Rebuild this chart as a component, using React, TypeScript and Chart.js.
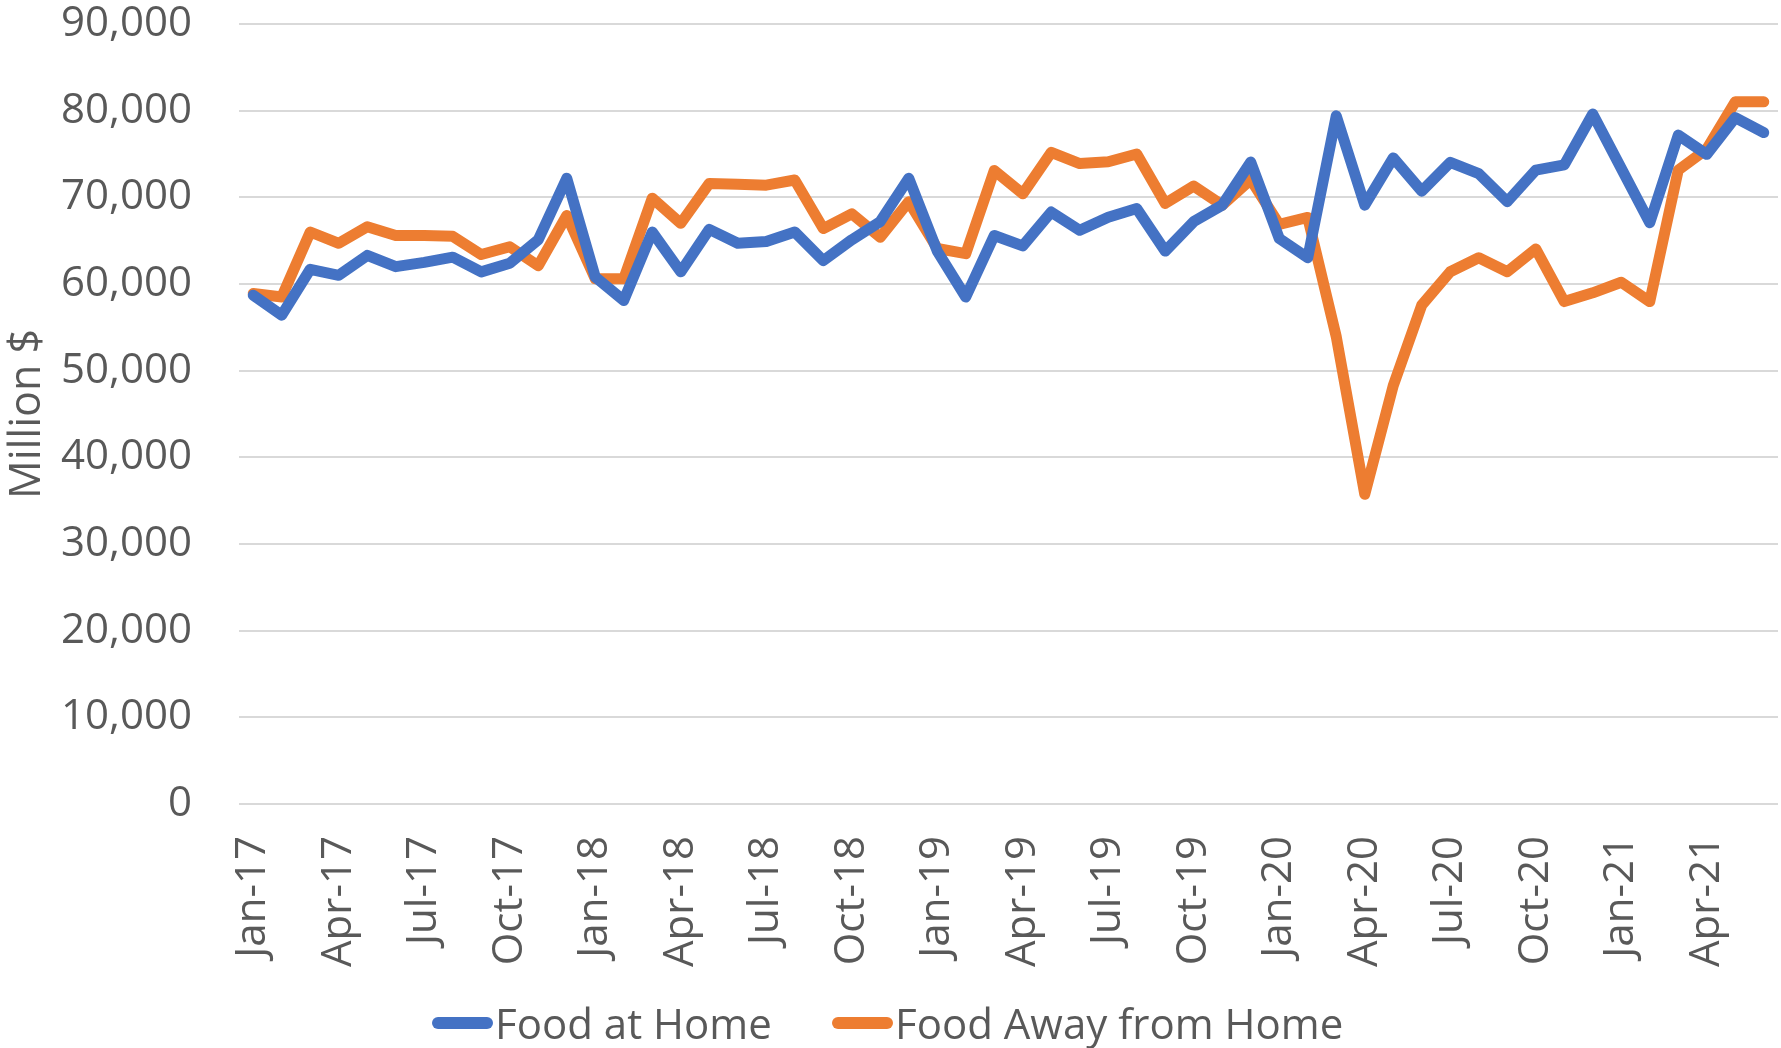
import React, { useEffect, useRef } from "react";
import { Chart, registerables } from "chart.js";

Chart.register(...registerables);

const months = [
  "Jan-17","Feb-17","Mar-17","Apr-17","May-17","Jun-17","Jul-17","Aug-17","Sep-17","Oct-17","Nov-17","Dec-17",
  "Jan-18","Feb-18","Mar-18","Apr-18","May-18","Jun-18","Jul-18","Aug-18","Sep-18","Oct-18","Nov-18","Dec-18",
  "Jan-19","Feb-19","Mar-19","Apr-19","May-19","Jun-19","Jul-19","Aug-19","Sep-19","Oct-19","Nov-19","Dec-19",
  "Jan-20","Feb-20","Mar-20","Apr-20","May-20","Jun-20","Jul-20","Aug-20","Sep-20","Oct-20","Nov-20","Dec-20",
  "Jan-21","Feb-21","Mar-21","Apr-21","May-21","Jun-21",
];

const foodAtHome = [
  58700, 56400, 61700, 61000, 63300, 62000, 62500, 63100, 61400, 62400, 65100, 72200,
  60800, 58100, 66000, 61400, 66300, 64700, 64900, 66000, 62700, 65100, 67200, 72200,
  63800, 58500, 65600, 64400, 68300, 66200, 67700, 68700, 63800, 67200, 69100, 74070,
  65250, 63030, 79400, 69100, 74550, 70710, 74030, 72730, 69500, 73140, 73750, 79610,
  73340, 67070, 77180, 74960, 79200, 77470,
];

const foodAwayFromHome = [
  58900, 58500, 66000, 64700, 66600, 65600, 65600, 65500, 63400, 64300, 62100, 67900,
  60600, 60600, 69900, 67000, 71600, 71500, 71400, 72000, 66400, 68100, 65400, 69500,
  64100, 63500, 73100, 70400, 75200, 73900, 74100, 75000, 69300, 71300, 69100, 72050,
  66870, 67680, 53930, 35730, 48270, 57570, 61410, 63030, 61410, 64040, 57970, 58980,
  60200, 57970, 73140, 75560, 81020, 81020,
];

const seriesNames = ["Food at Home", "Food Away from Home"];
const seriesColors = ["#4472C4", "#ED7D31"];
const legendLefts = [432, 832];

const FONT = "'Open Sans', 'Segoe UI', 'DejaVu Sans', sans-serif";
const TEXT = "#595959";

const clearPadding = (scale: any) => {
  scale.paddingTop = 0;
  scale.paddingBottom = 0;
  scale.paddingLeft = 0;
  scale.paddingRight = 0;
};

export default function App() {
  const ref = useRef<HTMLCanvasElement | null>(null);

  useEffect(() => {
    if (!ref.current) return;
    const chart = new Chart(ref.current, {
      type: "line",
      data: {
        labels: months,
        datasets: [
          {
            label: seriesNames[0],
            data: foodAtHome,
            borderColor: seriesColors[0],
            backgroundColor: seriesColors[0],
            borderWidth: 11,
            pointRadius: 0,
            tension: 0,
            borderCapStyle: "round",
            borderJoinStyle: "round",
          },
          {
            label: seriesNames[1],
            data: foodAwayFromHome,
            borderColor: seriesColors[1],
            backgroundColor: seriesColors[1],
            borderWidth: 11,
            pointRadius: 0,
            tension: 0,
            borderCapStyle: "round",
            borderJoinStyle: "round",
          },
        ],
      },
      options: {
        animation: false,
        responsive: false,
        maintainAspectRatio: false,
        layout: { autoPadding: false, padding: { top: 24, right: 3, left: 0, bottom: 0 } },
        plugins: {
          legend: { display: false },
          tooltip: { enabled: false },
        },
        scales: {
          x: {
            type: "category",
            offset: true,
            grid: { display: false, drawTicks: false },
            border: { display: false },
            afterFit: (scale: any) => {
              scale.height = 244;
              clearPadding(scale);
            },
            ticks: {
              autoSkip: false,
              maxRotation: 90,
              minRotation: 90,
              padding: 32,
              color: TEXT,
              font: { family: FONT, size: 42 },
              callback: (_v: any, i: number) => (i % 3 === 0 ? months[i] : ""),
            },
          },
          y: {
            min: 0,
            max: 90000,
            grid: { color: "#D9D9D9", lineWidth: 2, drawTicks: false },
            border: { display: false },
            afterFit: (scale: any) => {
              scale.width = 239;
              clearPadding(scale);
            },
            ticks: {
              stepSize: 10000,
              padding: 47,
              color: TEXT,
              font: { family: FONT, size: 42 },
              callback: (v: any) => Number(v).toLocaleString("en-US"),
            },
            title: {
              display: true,
              text: "Million $",
              color: TEXT,
              font: { family: FONT, size: 43 },
              padding: { top: 2, bottom: 0 },
            },
          },
        },
      },
    });
    return () => chart.destroy();
  }, []);

  return (
    <div
      style={{
        position: "fixed",
        left: 0,
        top: 0,
        width: 1781,
        height: 1048,
        background: "#ffffff",
        overflow: "hidden",
      }}
    >
      <canvas ref={ref} width={1781} height={1048} style={{ display: "block" }} />
      {seriesNames.map((name, i) => (
        <div
          key={name}
          style={{
            position: "absolute",
            left: legendLefts[i],
            top: 1002,
            height: 41,
            display: "flex",
            alignItems: "center",
            whiteSpace: "nowrap",
          }}
        >
          <div
            style={{
              width: 61,
              height: 12,
              borderRadius: 6,
              background: seriesColors[i],
              marginRight: 2,
            }}
          />
          <span style={{ fontFamily: FONT, fontSize: 42, lineHeight: "41px", color: TEXT }}>{name}</span>
        </div>
      ))}
    </div>
  );
}
